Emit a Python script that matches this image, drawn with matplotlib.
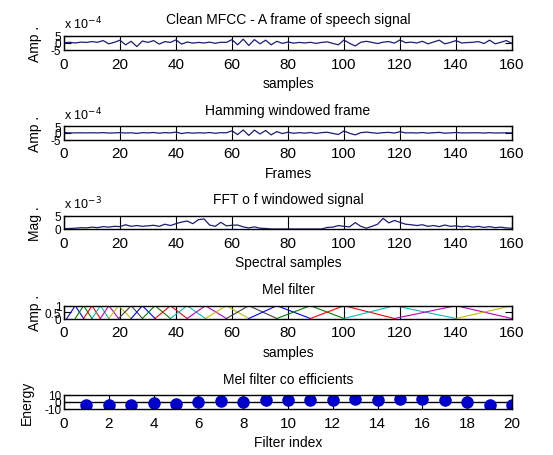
import numpy as np
import matplotlib
matplotlib.use('Agg')
import matplotlib.pyplot as plt
from matplotlib.ticker import FormatStrFormatter

plt.rcParams['font.family'] = ['Liberation Sans', 'DejaVu Sans']
plt.rcParams['axes.unicode_minus'] = False

# sample positions used by the first three panels (every 2nd sample of the frame)
samples = np.arange(0, 161, 2)

# panel 1: clean frame (units of 1e-4)
frame_amp = [0, 0.3, -0.2, 0.4, 0.2, 0.8, 0.3, 1.5, -0.8, 0.3, 1.8,
             -1.5, 1.0, -2.8, 1.2, 0.2, 1.5, -1.0, 0.8, 0.2, 2.0,
             -1.0, 0.5, -0.3, 0.2, -0.2, 0.4, -0.4, 0.3, 0.2, 2.2,
             -1.5, 2.5, -2.0, 2.2, -0.8, 1.8, -1.5, 1.0, -0.5, 0.5,
             -0.3, 0.2, -0.2, 0.3, -0.5, 0.2, 0.6, -0.5, -1.5, 2.0,
             -0.5, -2.3, 0.3, 1.0, 0.2, -0.6, 0.4, 0.8, -0.3, 2.0,
             0, 0.4, -0.2, 1.0, -0.8, 0.5, 1.8, -0.8, 0.2, 1.5,
             -0.2, 0.1, 0.3, 0.8, -0.6, 1.8, -0.8, 0.3, 1.5, -0.5]

# panel 2: hamming windowed frame (units of 1e-4)
windowed_amp = [0.3, 0, 0, 0.1, 0, 0.1, 0, 0.2, -0.1, 0, 0.2,
                -0.1, 0.1, -0.4, 0.2, 0, 0.3, -0.2, 0.2, 0, 0.6,
                -0.5, 0.2, -0.2, 0.1, -0.1, 0.3, -0.3, 0.2, 0.1, 1.6,
                -1.3, 2.2, -1.9, 2.1, -0.8, 1.8, -1.5, 1.0, -0.5, 0.5,
                -0.3, 0.2, -0.2, 0.3, -0.4, 0.2, 0.5, -0.4, -1.2, 1.5,
                -0.3, -1.5, 0.2, 0.6, 0.1, -0.3, 0.2, 0.4, -0.1, 0.9,
                0, 0.1, -0.1, 0.3, -0.2, 0.1, 0.4, -0.2, 0, 0.3,
                0, 0, 0.1, 0.1, -0.1, 0.2, -0.1, 0, 0.1, 0]

# panel 3: FFT magnitude (units of 1e-3)
fft_mag = [0.1, 0.2, 0.3, 0.5, 0.4, 0.7, 0.5, 0.9, 0.7, 1.0, 0.9,
           1.6, 1.0, 1.3, 1.0, 1.2, 1.4, 1.0, 1.8, 1.3, 2.0,
           2.6, 3.0, 2.0, 3.5, 3.8, 1.5, 1.0, 2.5, 1.2, 1.4,
           1.5, 0.8, 0.4, 0.8, 0.3, 0.2, 0, 0, 0, 0,
           0, 0, 0, 0, 0, 0, 0.6, 0.7, 1.3, 1.0,
           0.8, 2.4, 1.0, 0.3, 1.0, 1.8, 4.0, 2.3, 3.2, 2.5,
           1.8, 1.6, 1.3, 1.6, 1.0, 1.3, 0.9, 1.5, 1.0, 1.2,
           0.8, 1.1, 0.7, 1.0, 0.6, 0.9, 0.5, 0.7, 0.4, 0.3]

# panel 4: mel filter band edges (sample index), 20 triangular filters
# (the last one peaks at 160 and is cut off by the axis)
mel_edges = [1, 4, 7, 10, 13, 16, 19.5, 24, 28, 32.5, 38, 44, 50.5, 58,
             66, 76, 88, 100, 118, 140, 160, 182]

# panel 5: mel filter coefficients
filter_index = np.arange(1, 21)
mel_coeffs = [-4.3, -4.3, -4.3, -1.9, -2.9, -0.5, 1.0, 0.0, 2.9, 3.3,
              2.4, 3.3, 4.3, 2.9, 4.3, 4.3, 2.9, -0.5, -4.3, -3.8]

matlab_colors = [(0, 0, 1), (0, 0.5, 0), (1, 0, 0), (0, 0.75, 0.75),
                 (0.75, 0, 0.75), (0.75, 0.75, 0), (0.25, 0.25, 0.25)]
line_col = '#1c1c78'

W, H = 553, 456
fig = plt.figure(figsize=(W / 100, H / 100), dpi=100)


def make_axes(top_px, bottom_px):
    return fig.add_axes([64 / W, 1 - bottom_px / H, 448 / W, (bottom_px - top_px) / H])


def style(ax, title, xlabel, ylabel, ylab_x):
    ax.set_title(title, fontsize=10, pad=9)
    ax.set_xlabel(xlabel, fontsize=10, labelpad=4)
    ax.set_ylabel(ylabel, fontsize=10)
    ax.yaxis.set_label_coords(ylab_x, 0.5)
    ax.tick_params(direction='in', length=5, top=True, right=True,
                   width=0.8)
    ax.tick_params(axis='x', labelsize=11, pad=5)
    ax.tick_params(axis='y', labelsize=8.5, pad=2)
    for s in ax.spines.values():
        s.set_linewidth(1.0)


def exp_label(ax, text):
    ax.text(0.0, 1.32, text, transform=ax.transAxes, fontsize=9,
            va='bottom', ha='left')


# Panel 1
ax1 = make_axes(36.7, 50.7)
ax1.plot(samples, frame_amp, color=line_col, lw=0.9)
ax1.set_xlim(0, 160)
ax1.set_ylim(-5, 5)
ax1.set_xticks(np.arange(0, 161, 20))
ax1.set_yticks([-5, 0, 5])
style(ax1, 'Clean MFCC - A frame of speech signal', 'samples', 'Amp .', -0.05)
exp_label(ax1, 'x 10$^{-4}$')

# Panel 2
ax2 = make_axes(127.3, 140.5)
ax2.plot(samples, windowed_amp, color=line_col, lw=0.9)
ax2.set_xlim(0, 160)
ax2.set_ylim(-5, 5)
ax2.set_xticks(np.arange(0, 161, 20))
ax2.set_yticks([-5, 0, 5])
style(ax2, 'Hamming windowed frame', 'Frames', 'Amp .', -0.05)
exp_label(ax2, 'x 10$^{-4}$')

# Panel 3
ax3 = make_axes(216.7, 230)
ax3.plot(samples, fft_mag, color=line_col, lw=0.9)
ax3.set_xlim(0, 160)
ax3.set_ylim(0, 5)
ax3.set_xticks(np.arange(0, 161, 20))
ax3.set_yticks([0, 5])
style(ax3, 'FFT o f windowed signal', 'Spectral samples', 'Mag .', -0.05)
exp_label(ax3, 'x 10$^{-3}$')

# Panel 4
ax4 = make_axes(306.7, 319.5)
for i in range(len(mel_edges) - 2):
    ax4.plot(mel_edges[i:i + 3], [0, 1, 0], color=matlab_colors[i % 7], lw=0.8)
ax4.set_xlim(0, 160)
ax4.set_ylim(0, 1)
ax4.set_xticks(np.arange(0, 161, 20))
ax4.set_yticks([0, 0.5, 1])
ax4.yaxis.set_major_formatter(FormatStrFormatter('%g'))
style(ax4, 'Mel filter', 'samples', 'Amp .', -0.05)

# Panel 5
ax5 = make_axes(396, 410)
ax5.axhline(0, color='black', lw=1.0)
ax5.vlines(filter_index, 0, mel_coeffs, color='#0000cc', lw=1)
ax5.plot(filter_index, mel_coeffs, 'o', color='#0000cc', markersize=8)
ax5.set_xlim(0, 20)
ax5.set_ylim(-10, 10)
ax5.set_xticks(np.arange(0, 21, 2))
ax5.set_yticks([-10, 0, 10])
style(ax5, 'Mel filter co efficients', 'Filter index', 'Energy', -0.068)

fig.savefig('out.png', dpi=100)
